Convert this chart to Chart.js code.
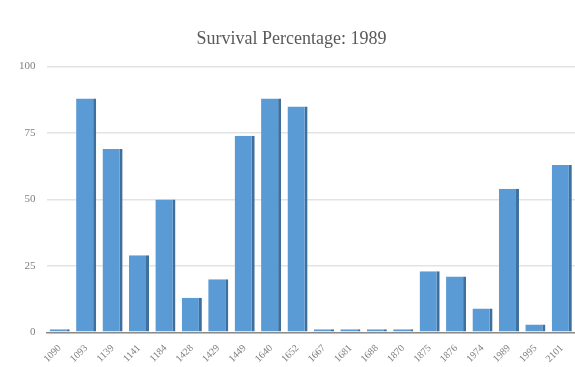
<!DOCTYPE html>
<html>
<head>
<meta charset="utf-8">
<script src="https://cdn.jsdelivr.net/npm/chart.js@4/dist/chart.umd.min.js"></script>
<style>
  html, body { margin: 0; padding: 0; background: #fff; }
  #wrap { width: 575px; height: 367px; }
</style>
</head>
<body>
<div id="wrap"><canvas id="c"></canvas></div>
<script>
// Site IDs along the x axis
const sites = ["1090", "1093", "1139", "1141", "1184", "1428", "1429", "1449", "1640", "1652",
               "1667", "1681", "1688", "1870", "1875", "1876", "1974", "1989", "1995", "2101"];
// Survival percentage per site, 1989
const survival = [0, 88, 69, 29, 50, 13, 20, 74, 88, 85,
                  0, 0, 0, 0, 23, 21, 9, 54, 3, 63];
// Value-axis ticks
const yTicks = [0, 25, 50, 75, 100];

const serif = "'Liberation Serif', 'DejaVu Serif', serif";

new Chart(document.getElementById('c'), {
  type: 'bar',
  data: {
    labels: sites,
    datasets: [{
      data: survival,
      backgroundColor: '#5b9bd5',
      borderColor: '#3f6f9c',
      borderWidth: { top: 0, right: 3, bottom: 0, left: 0 },
      borderSkipped: false,
      minBarLength: 3,
      clip: 4,
      categoryPercentage: 0.8,
      barPercentage: 0.95
    }]
  },
  options: {
    responsive: true,
    maintainAspectRatio: false,
    animation: false,
    layout: { padding: { left: 8, right: 0, top: 4, bottom: 0 } },
    plugins: {
      legend: { display: false },
      tooltip: { enabled: false },
      title: {
        display: true,
        text: 'Survival Percentage: 1989',
        color: '#595959',
        font: { family: serif, size: 18, weight: 'normal' },
        padding: { top: 24, bottom: 17 }
      }
    },
    scales: {
      x: {
        grid: { display: false },
        border: { color: '#8c8c8c', width: 1.5 },
        ticks: {
          color: '#7f7f7f',
          font: { family: serif, size: 10 },
          maxRotation: 45,
          minRotation: 45,
          autoSkip: false,
          padding: 2
        }
      },
      y: {
        min: 0,
        max: 100,
        afterBuildTicks: axis => { axis.ticks = yTicks.map(v => ({ value: v })); },
        grid: { color: '#e3e3e3', lineWidth: 1.5, drawTicks: false },
        border: { display: false },
        ticks: {
          color: '#7f7f7f',
          font: { family: serif, size: 11 },
          padding: 11
        }
      }
    }
  }
});
</script>
</body>
</html>
